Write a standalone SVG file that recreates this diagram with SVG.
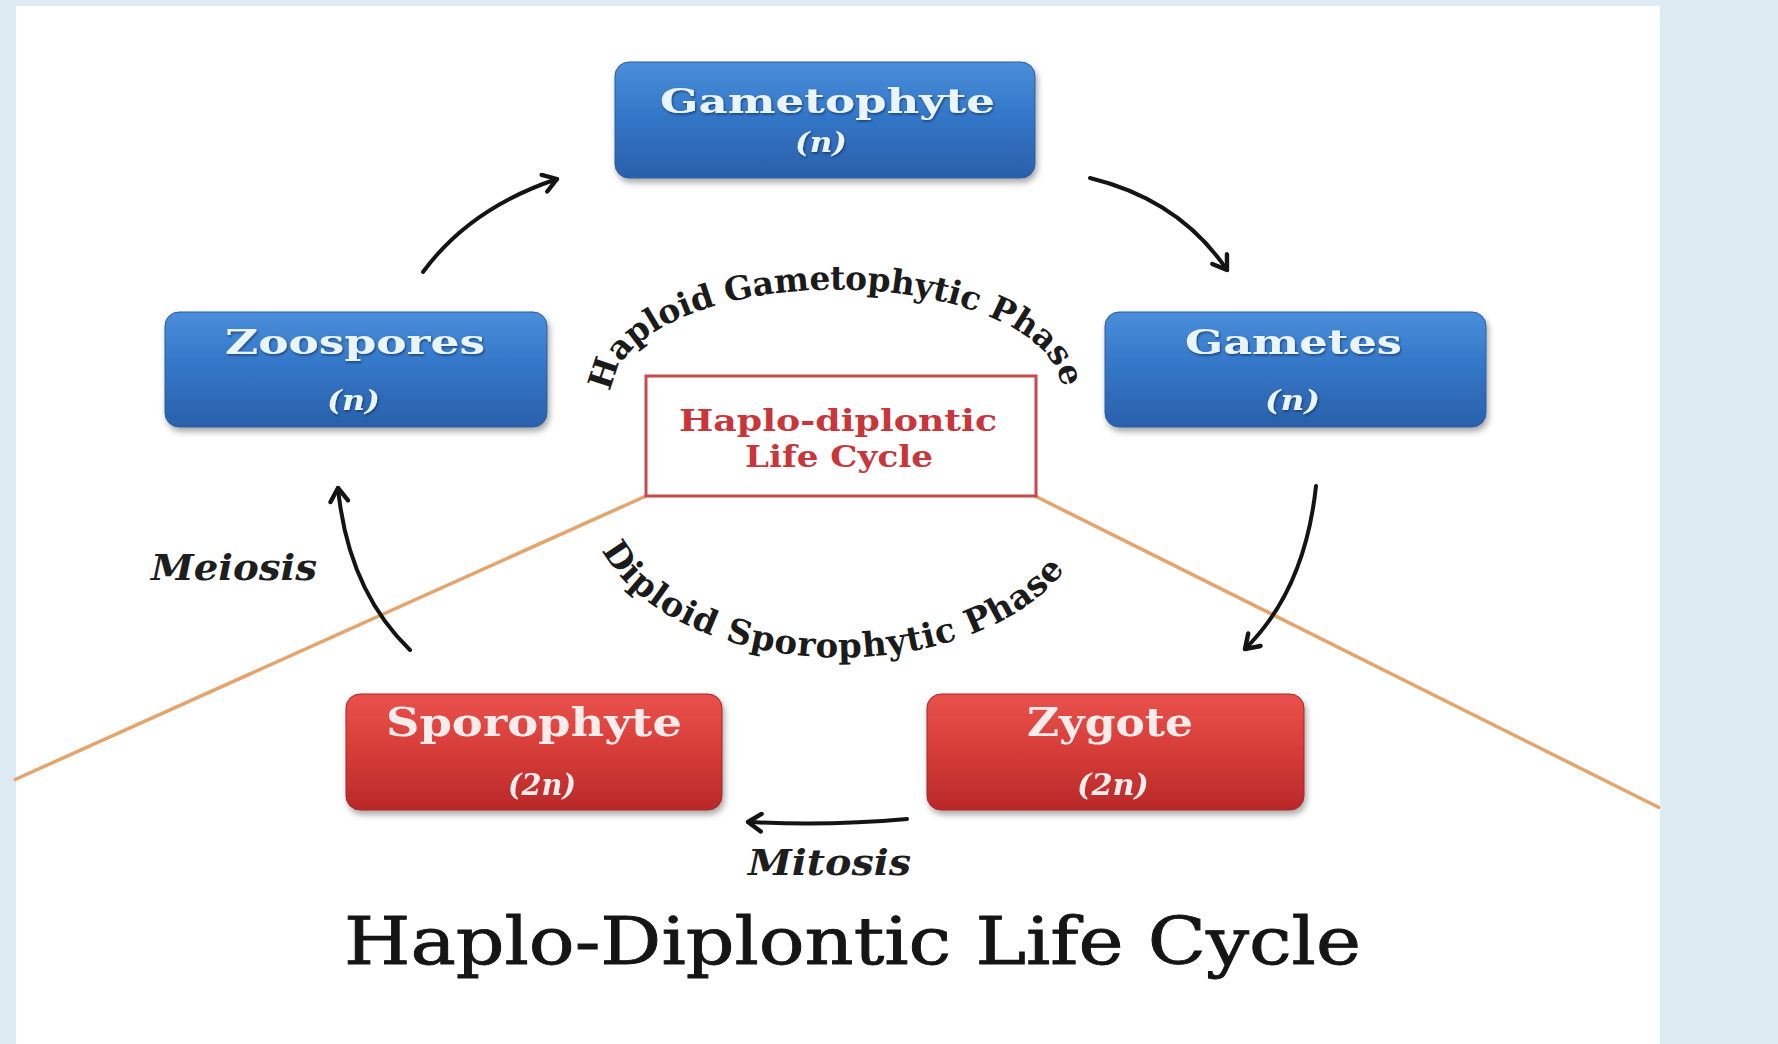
<svg xmlns="http://www.w3.org/2000/svg" width="1778" height="1044" viewBox="0 0 1778 1044">
<style>
.lbl{font-family:"DejaVu Serif","Liberation Serif",serif;font-weight:bold;}
.blueT{fill:#eaf4fb;}
.redT{fill:#fbecec;font-family:"DejaVu Serif Condensed","DejaVu Serif","Liberation Serif",serif;}
.arc{font-family:"DejaVu Serif","Liberation Serif",serif;font-weight:bold;fill:#1b1b1b;}
.conn{fill:none;stroke:#141414;stroke-width:4;stroke-linecap:round;}
.orange{stroke:#e3a56d;stroke-width:3.5;fill:none;}
.step{font-family:"DejaVu Serif Condensed","DejaVu Serif","Liberation Serif",serif;font-weight:bold;font-style:italic;fill:#1e1e1e;}
</style>
<defs>
<linearGradient id="gBlue" x1="0" y1="0" x2="0" y2="1">
<stop offset="0" stop-color="#4a8fdb"/>
<stop offset="0.45" stop-color="#3477c8"/>
<stop offset="1" stop-color="#2a60ab"/>
</linearGradient>
<linearGradient id="gRed" x1="0" y1="0" x2="0" y2="1">
<stop offset="0" stop-color="#e9524c"/>
<stop offset="0.5" stop-color="#d63c38"/>
<stop offset="1" stop-color="#b8292a"/>
</linearGradient>
<filter id="sh" x="-10%" y="-10%" width="120%" height="130%">
<feDropShadow dx="2" dy="4" stdDeviation="3" flood-color="#000" flood-opacity="0.35"/>
</filter>
<filter id="tsh" x="-5%" y="-20%" width="110%" height="140%">
<feDropShadow dx="1" dy="1.5" stdDeviation="0.8" flood-color="#0d2a55" flood-opacity="0.7"/>
</filter>
<marker id="ah" viewBox="0 0 20 20" refX="15" refY="10" markerWidth="22" markerHeight="22" markerUnits="userSpaceOnUse" orient="auto">
<path d="M3,2 L15,10 L3,18" fill="none" stroke="#141414" stroke-width="4" stroke-linecap="round" stroke-linejoin="round"/>
</marker>
<path id="arcTop" d="M 612 392 A 224 102 0 0 1 1062 392"/>
<path id="arcBot" d="M 602 550 A 250 155 0 0 0 1078 550"/>
</defs>

<rect x="0" y="0" width="1778" height="1044" fill="#dcecf2"/>
<rect x="16" y="6" width="1644" height="1038" fill="#ffffff"/>

<g id="orange-lines">
<line class="orange" x1="646" y1="496" x2="14" y2="780"/>
<line class="orange" x1="1035" y1="496" x2="1660" y2="808"/>
</g>

<g id="connectors">
<path class="conn" d="M 423 272 Q 470 208 557 179" marker-end="url(#ah)"/>
<path class="conn" d="M 1090 178 Q 1180 200 1227 270" marker-end="url(#ah)"/>
<path class="conn" d="M 1316 486 Q 1305 590 1245 649" marker-end="url(#ah)"/>
<path class="conn" d="M 410 650 Q 348 590 338 488" marker-end="url(#ah)"/>
<path class="conn" d="M 907 819 Q 830 826 748 822" marker-end="url(#ah)"/>
<text class="step" x="151" y="580" font-size="35" textLength="166" lengthAdjust="spacingAndGlyphs">Meiosis</text>
<text class="step" x="748" y="875" font-size="35" textLength="163" lengthAdjust="spacingAndGlyphs">Mitosis</text>
</g>

<g id="phase-labels">
<text class="arc" font-size="33"><textPath href="#arcTop" textLength="528" lengthAdjust="spacing">Haploid Gametophytic Phase</textPath></text>
<text class="arc" font-size="34"><textPath href="#arcBot" textLength="522" lengthAdjust="spacing">Diploid Sporophytic Phase</textPath></text>
</g>

<g id="center">
<rect x="646" y="376" width="390" height="120" fill="#ffffff" stroke="#c9484b" stroke-width="3"/>
<text class="lbl" x="679" y="431" font-size="29" fill="#c8353a" textLength="318" lengthAdjust="spacingAndGlyphs">Haplo-diplontic</text>
<text class="lbl" x="745" y="467" font-size="29" fill="#c8353a" textLength="188" lengthAdjust="spacingAndGlyphs">Life Cycle</text>
</g>

<g id="gametophyte" filter="url(#sh)">
<rect x="615" y="62" width="420" height="116" rx="14" fill="url(#gBlue)" stroke="#2b5ca0" stroke-width="1"/>
<text class="lbl blueT" x="660" y="113" font-size="33" textLength="335" lengthAdjust="spacingAndGlyphs" filter="url(#tsh)">Gametophyte</text>
<text class="lbl blueT" x="795" y="152" font-size="27" font-style="italic" textLength="52" lengthAdjust="spacingAndGlyphs" filter="url(#tsh)">(n)</text>
</g>

<g id="zoospores" filter="url(#sh)">
<rect x="165" y="312" width="382" height="115" rx="14" fill="url(#gBlue)" stroke="#2b5ca0" stroke-width="1"/>
<text class="lbl blueT" x="225" y="354" font-size="34" textLength="260" lengthAdjust="spacingAndGlyphs" filter="url(#tsh)">Zoospores</text>
<text class="lbl blueT" x="327" y="410" font-size="27" font-style="italic" textLength="53" lengthAdjust="spacingAndGlyphs" filter="url(#tsh)">(n)</text>
</g>

<g id="gametes" filter="url(#sh)">
<rect x="1105" y="312" width="381" height="115" rx="14" fill="url(#gBlue)" stroke="#2b5ca0" stroke-width="1"/>
<text class="lbl blueT" x="1185" y="354" font-size="34" textLength="217" lengthAdjust="spacingAndGlyphs" filter="url(#tsh)">Gametes</text>
<text class="lbl blueT" x="1265" y="410" font-size="27" font-style="italic" textLength="55" lengthAdjust="spacingAndGlyphs" filter="url(#tsh)">(n)</text>
</g>

<g id="sporophyte" filter="url(#sh)">
<rect x="346" y="694" width="376" height="116" rx="14" fill="url(#gRed)" stroke="#a82426" stroke-width="1"/>
<text class="lbl redT" x="386" y="736" font-size="39" textLength="296" lengthAdjust="spacingAndGlyphs">Sporophyte</text>
<text class="lbl redT" x="508" y="795" font-size="30" font-style="italic" textLength="68" lengthAdjust="spacingAndGlyphs">(2n)</text>
</g>

<g id="zygote" filter="url(#sh)">
<rect x="927" y="694" width="377" height="116" rx="14" fill="url(#gRed)" stroke="#a82426" stroke-width="1"/>
<text class="lbl redT" x="1027" y="736" font-size="39" textLength="166" lengthAdjust="spacingAndGlyphs">Zygote</text>
<text class="lbl redT" x="1077" y="795" font-size="30" font-style="italic" textLength="72" lengthAdjust="spacingAndGlyphs">(2n)</text>
</g>

<g id="title">
<text x="344" y="964" font-family="'DejaVu Serif Condensed','DejaVu Serif','Liberation Serif',serif" font-size="65" fill="#151515" stroke="#151515" stroke-width="0.8" textLength="1017" lengthAdjust="spacingAndGlyphs">Haplo-Diplontic Life Cycle</text>
</g>
</svg>
